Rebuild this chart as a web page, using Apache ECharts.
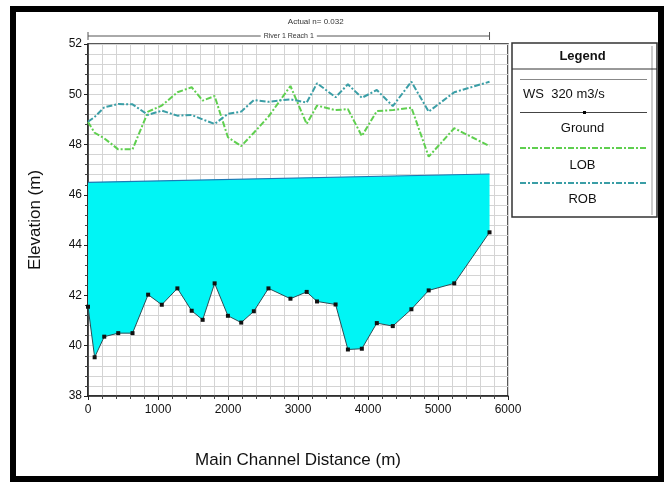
<!DOCTYPE html>
<html><head><meta charset="utf-8">
<script src="https://cdn.jsdelivr.net/npm/echarts@6/dist/echarts.min.js"></script>
<style>html,body{margin:0;padding:0;background:#fff}#c{width:668px;height:484px}</style>
</head><body><div id="c"></div>
<script>
// Data
const stations = [0,95,232,432,636,859,1054,1277,1481,1638,1809,1999,2189,2369,2578,2892,3124,3272,3537,3713,3912,4126,4354,4620,4867,5232,5736];
const ground = [41.55,39.54,40.36,40.5,40.5,42.03,41.63,42.28,41.39,41.03,42.48,41.19,40.92,41.37,42.28,41.87,42.14,41.76,41.64,39.85,39.88,40.9,40.78,41.45,42.2,42.48,44.51];
const lob = [48.9,48.47,48.25,47.81,47.81,49.31,49.55,50.08,50.28,49.75,49.93,48.29,47.94,48.47,49.11,50.33,48.82,49.55,49.37,49.41,48.34,49.33,49.37,49.47,47.52,48.65,47.94];
const rob = [48.91,49.1,49.48,49.61,49.6,49.18,49.35,49.15,49.18,49.0,48.82,49.22,49.31,49.77,49.7,49.8,49.67,50.44,49.88,50.4,49.86,50.17,49.53,50.5,49.31,50.08,50.5];
const wsStations = [0,5736];
const wsElev = [46.5,46.83];
const legendLabels = ['WS  320 m3/s','Ground','LOB','ROB'];
const xTitle = 'Main Channel Distance (m)';
const yTitle = 'Elevation (m)';
const topNote = 'Actual n= 0.032';
const reachLabel = 'River 1 Reach 1';

const pair = (xs, ys) => xs.map((x,i)=>[x, ys[i]]);
const FONT = 'Liberation Sans, Arial, sans-serif';
const chart = echarts.init(document.getElementById('c'), null, {renderer:'canvas'});

const gridLine = {show:true, lineStyle:{color:'#d4d4d4', width:1}};
const option = {
  animation:false,
  backgroundColor:'#fff',
  grid:{left:88, top:44, right:160, bottom:88, show:true, borderColor:'#222', borderWidth:1.5, backgroundColor:'transparent'},
  xAxis:{type:'value', min:0, max:6000, interval:1000,
    name:xTitle, nameLocation:'middle', nameGap:56,
    nameTextStyle:{fontFamily:FONT, fontSize:17, color:'#111'},
    axisLine:{lineStyle:{color:'#222', width:1.5}},
    axisTick:{show:true, length:4, lineStyle:{color:'#222'}},
    minorTick:{show:true, splitNumber:5, length:3, lineStyle:{color:'#444'}},
    axisLabel:{fontFamily:FONT, fontSize:12, color:'#111', margin:8, formatter:v=>String(v)},
    splitLine:gridLine, minorSplitLine:gridLine},
  yAxis:{type:'value', min:38, max:52, interval:2,
    name:yTitle, nameLocation:'middle', nameGap:44, nameRotate:90,
    nameTextStyle:{fontFamily:FONT, fontSize:17, color:'#111'},
    axisLine:{show:true, lineStyle:{color:'#222', width:1.5}},
    axisTick:{show:true, length:4, lineStyle:{color:'#222'}},
    minorTick:{show:true, splitNumber:5, length:3, lineStyle:{color:'#444'}},
    axisLabel:{fontFamily:FONT, fontSize:12, color:'#111', margin:6},
    splitLine:gridLine, minorSplitLine:gridLine},
  series:[
    {type:'custom', z:1, silent:true, data:[[0,0]],
      renderItem:function(params, api){
        const pts = [];
        for(let i=0;i<wsStations.length;i++) pts.push(api.coord([wsStations[i], wsElev[i]]));
        for(let i=stations.length-1;i>=0;i--) pts.push(api.coord([stations[i], ground[i]]));
        return {type:'polygon', shape:{points:pts}, style:{fill:'#00f5f5', stroke:null}};
      }},
    {name:'WS', type:'line', z:3, data:pair(wsStations, wsElev), symbol:'none',
      lineStyle:{color:'#1e78b4', width:1.2}},
    {name:'Ground', type:'line', z:4, data:pair(stations, ground), symbol:'rect', symbolSize:4,
      itemStyle:{color:'#111'}, lineStyle:{color:'#2b4d55', width:1}},
    {name:'LOB', type:'line', z:5, data:pair(stations, lob), symbol:'none',
      lineStyle:{color:'#5fcf4f', width:2, type:[6,2,2,2]}},
    {name:'ROB', type:'line', z:5, data:pair(stations, rob), symbol:'none',
      lineStyle:{color:'#3a9ea6', width:2, type:[6,2,2,2]}}
  ]
};
chart.setOption(option);

// annotations & legend box
const x0 = chart.convertToPixel({gridIndex:0},[stations[0], 52])[0];
const x1 = chart.convertToPixel({gridIndex:0},[stations[stations.length-1], 52])[0];
const ly = 36;
const LX = 512, LY = 43, LW = 145, LH = 174;
const g = [
  // outer frame
  {type:'rect', shape:{x:13, y:9, width:648, height:470}, style:{fill:null, stroke:'#000', lineWidth:6}, z:100},
  // top annotations
  {type:'text', x:(x0+x1)/2 + 27, y:22, style:{text:topNote, font:'8px '+FONT, fill:'#333', align:'center', verticalAlign:'middle'}},
  {type:'line', shape:{x1:x0, y1:ly, x2:x1, y2:ly}, style:{stroke:'#555', lineWidth:1}},
  {type:'line', shape:{x1:x0, y1:ly-4, x2:x0, y2:ly+4}, style:{stroke:'#555', lineWidth:1}},
  {type:'line', shape:{x1:x1, y1:ly-4, x2:x1, y2:ly+4}, style:{stroke:'#555', lineWidth:1}},
  {type:'text', x:(x0+x1)/2, y:ly, style:{text:reachLabel, font:'7px '+FONT, fill:'#333', align:'center', verticalAlign:'middle', backgroundColor:'#fff', padding:[0,3]}},
  // legend box
  {type:'rect', shape:{x:LX, y:LY, width:LW, height:LH}, style:{fill:'#fff', stroke:'#333', lineWidth:1.5}},
  {type:'line', shape:{x1:LX+LW-5, y1:LY+3, x2:LX+LW-5, y2:LY+LH-2}, style:{stroke:'#999', lineWidth:1}},
  {type:'text', x:LX+LW/2-2, y:56, style:{text:'Legend', font:'bold 13px '+FONT, fill:'#111', align:'center', verticalAlign:'middle'}},
  {type:'line', shape:{x1:LX, y1:69, x2:LX+LW, y2:69}, style:{stroke:'#333', lineWidth:1}},
  {type:'line', shape:{x1:LX+8, y1:79.5, x2:LX+LW-10, y2:79.5}, style:{stroke:'#888', lineWidth:1.2}},
  {type:'text', x:LX+11, y:94, style:{text:legendLabels[0], font:'13px '+FONT, fill:'#111', align:'left', verticalAlign:'middle'}},
  {type:'line', shape:{x1:LX+8, y1:112.5, x2:LX+LW-10, y2:112.5}, style:{stroke:'#444', lineWidth:1}},
  {type:'rect', shape:{x:LX+LW/2-1.5, y:111, width:3, height:3}, style:{fill:'#000'}},
  {type:'text', x:LX+LW/2-2, y:128.5, style:{text:legendLabels[1], font:'13px '+FONT, fill:'#111', align:'center', verticalAlign:'middle'}},
  {type:'line', shape:{x1:LX+8, y1:148, x2:LX+LW-10, y2:148}, style:{stroke:'#5fcf4f', lineWidth:2, lineDash:[6,2,2,2]}},
  {type:'text', x:LX+LW/2-2, y:165, style:{text:legendLabels[2], font:'13px '+FONT, fill:'#111', align:'center', verticalAlign:'middle'}},
  {type:'line', shape:{x1:LX+8, y1:183, x2:LX+LW-10, y2:183}, style:{stroke:'#3a9ea6', lineWidth:2, lineDash:[6,2,2,2]}},
  {type:'text', x:LX+LW/2-2, y:199, style:{text:legendLabels[3], font:'13px '+FONT, fill:'#111', align:'center', verticalAlign:'middle'}}
];
chart.setOption({graphic:g});
</script>
</body></html>
